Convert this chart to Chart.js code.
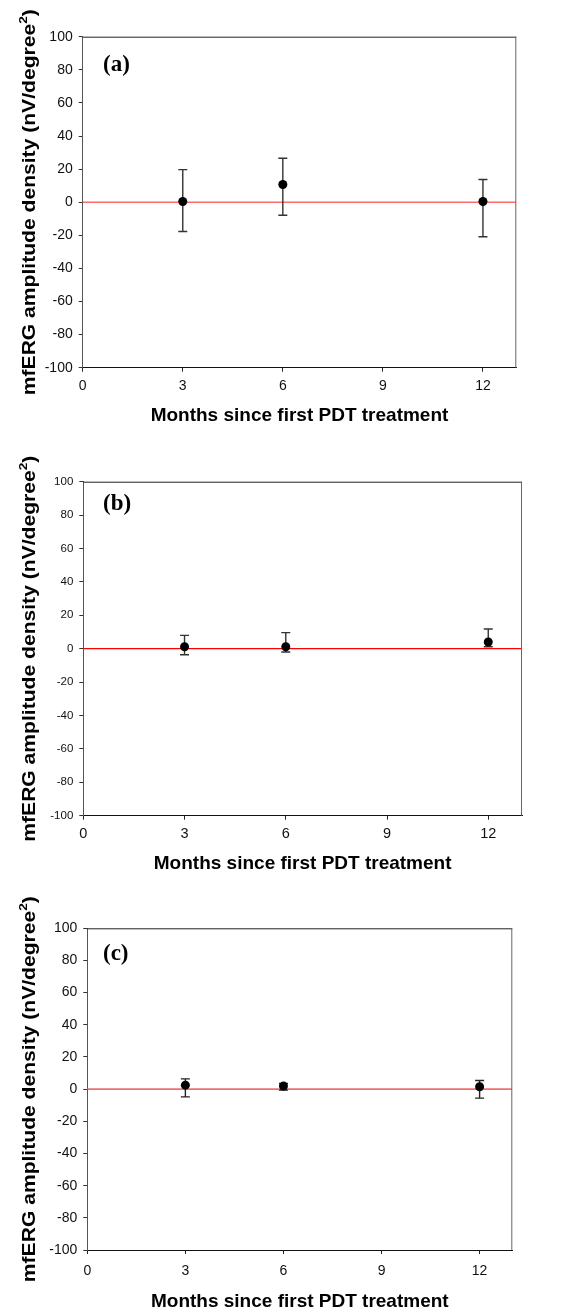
<!DOCTYPE html>
<html>
<head>
<meta charset="utf-8">
<script src="https://cdn.jsdelivr.net/npm/chart.js@4.4.1/dist/chart.umd.min.js"></script>
<style>
  html, body { margin: 0; padding: 0; background: #fff; }
  body { width: 568px; height: 1313px; position: relative; overflow: hidden; }
  canvas { position: absolute; left: 0; }
  .tag {
    position: absolute;
    font-family: "Liberation Serif", "Times New Roman", serif;
    font-weight: bold;
    font-size: 23px;
    line-height: 1;
    color: #000;
  }
</style>
</head>
<body>
<canvas id="chartA" width="568" height="440" style="top:0px"></canvas>
<canvas id="chartB" width="568" height="445" style="top:435px"></canvas>
<canvas id="chartC" width="568" height="443" style="top:870px"></canvas>
<div class="tag" style="left:103px; top:52px;">(a)</div>
<div class="tag" style="left:103px; top:491px;">(b)</div>
<div class="tag" style="left:103px; top:941px;">(c)</div>

<script>
// ---- data ----
const months = [3, 6, 12];

const meanA  = [0.4, 10.7, 0.4];
const upperA = [19.7, 26.6, 13.7];
const lowerA = [-17.7, -7.9, -20.9];

const meanB  = [1.2, 1.2, 4.0];
const upperB = [8.0, 9.6, 11.8];
const lowerB = [-3.6, -2.0, 1.2];

const meanC  = [2.5, 1.9, 1.5];
const upperC = [6.4, 3.5, 5.4];
const lowerC = [-4.8, -0.6, -5.6];

const xTicks = [0, 3, 6, 9, 12];
const yTicks = [-100, -80, -60, -40, -20, 0, 20, 40, 60, 80, 100];
const xMin = 0, xMax = 13;
const yMin = -100, yMax = 100;

const xTitle = 'Months since first PDT treatment';
const yTitleMain = 'mfERG amplitude density (nV/degree';
const yTitleSup = '2';
const yTitleEnd = ')';

const SANS = '"Liberation Sans", Arial, Helvetica, sans-serif';

/**
 * Error bars, top/right frame and rotated y title
 */
const panelPlugin = {
    id: 'panelDeco',
    beforeDatasetDraw(chart, args, opts) {
        if (args.index !== 1) return;
        const ctx = chart.ctx;
        const xs = chart.scales.x, ys = chart.scales.y;
        ctx.save();
        ctx.strokeStyle = opts.barColor;
        ctx.lineWidth = opts.barWidth;
        months.forEach((m, i) => {
            const px = xs.getPixelForValue(m);
            const pHi = ys.getPixelForValue(opts.upper[i]);
            const pLo = ys.getPixelForValue(opts.lower[i]);
            ctx.beginPath();
            ctx.moveTo(px, pHi); ctx.lineTo(px, pLo);
            ctx.moveTo(px - opts.cap, pHi); ctx.lineTo(px + opts.cap, pHi);
            ctx.moveTo(px - opts.cap, pLo); ctx.lineTo(px + opts.cap, pLo);
            ctx.stroke();
        });
        ctx.restore();
    },
    afterDraw(chart, args, opts) {
        const ctx = chart.ctx;
        const a = chart.chartArea;
        ctx.save();
        // top and right frame
        ctx.lineWidth = 1;
        ctx.strokeStyle = '#222';
        ctx.beginPath();
        ctx.moveTo(a.left, a.top + 0.5); ctx.lineTo(a.right, a.top + 0.5);
        ctx.stroke();
        ctx.strokeStyle = '#666';
        ctx.beginPath();
        ctx.moveTo(a.right - 0.5, a.top); ctx.lineTo(a.right - 0.5, a.bottom);
        ctx.stroke();

        // y title with superscript
        const size = opts.yTitleSize;
        ctx.fillStyle = '#000';
        ctx.translate(opts.yTitleX, (a.top + a.bottom) / 2);
        ctx.rotate(-Math.PI / 2);
        ctx.font = `bold ${size}px ${SANS}`;
        const w1 = ctx.measureText(yTitleMain).width;
        const w3 = ctx.measureText(yTitleEnd).width;
        ctx.font = `bold ${size * 0.65}px ${SANS}`;
        const w2 = ctx.measureText(yTitleSup).width;
        const total = w1 + w2 + w3;
        ctx.scale(opts.yTitleLen / total, 1);
        ctx.textBaseline = 'alphabetic';
        ctx.textAlign = 'left';
        let x = -total / 2;
        ctx.font = `bold ${size}px ${SANS}`;
        ctx.fillText(yTitleMain, x, 0);
        x += w1;
        ctx.font = `bold ${size * 0.65}px ${SANS}`;
        ctx.fillText(yTitleSup, x, -size * 0.42);
        x += w2;
        ctx.font = `bold ${size}px ${SANS}`;
        ctx.fillText(yTitleEnd, x, 0);
        ctx.restore();
    }
};

function makePanel(id, mean, upper, lower, g) {
    const canvas = document.getElementById(id);
    const H = canvas.height;
    const titleLine = g.xTitleSize * 1.2;

    return new Chart(canvas.getContext('2d'), {
        type: 'scatter',
        data: {
            datasets: [
                {
                    // zero reference line
                    type: 'line',
                    data: [{ x: xMin, y: 0 }, { x: xMax, y: 0 }],
                    borderColor: g.zeroColor,
                    borderWidth: g.zeroWidth,
                    pointRadius: 0,
                    showLine: true,
                    order: 2
                },
                {
                    data: months.map((m, i) => ({ x: m, y: mean[i] })),
                    backgroundColor: '#000',
                    borderColor: '#000',
                    pointRadius: 4.5,
                    pointBorderWidth: 0,
                    order: 1
                }
            ]
        },
        options: {
            responsive: false,
            animation: false,
            layout: {
                padding: { top: g.top, right: 568 - g.right, bottom: 0, left: 0 }
            },
            plugins: {
                legend: { display: false },
                tooltip: { enabled: false },
                panelDeco: {
                    upper: upper,
                    lower: lower,
                    barColor: g.barColor,
                    barWidth: 1.4,
                    cap: 4.5,
                    yTitleSize: 18,
                    yTitleX: 34.5,
                    yTitleLen: 386
                }
            },
            scales: {
                x: {
                    type: 'linear',
                    min: xMin,
                    max: xMax,
                    afterBuildTicks: s => { s.ticks = xTicks.map(v => ({ value: v })); },
                    afterFit: s => { s.height = H - g.bottom; },
                    grid: { drawOnChartArea: false, drawTicks: true, tickLength: 4, color: '#222' },
                    border: { display: true, color: '#111', width: 1 },
                    ticks: {
                        color: '#111',
                        padding: g.xTickPad,
                        font: { family: SANS, size: g.xTickSize }
                    },
                    title: {
                        display: true,
                        text: xTitle,
                        color: '#000',
                        font: { family: SANS, size: g.xTitleSize, weight: 'bold' },
                        padding: { top: 0, bottom: Math.max(0, H - g.xTitleY - titleLine / 2) }
                    }
                },
                y: {
                    type: 'linear',
                    min: yMin,
                    max: yMax,
                    afterBuildTicks: s => { s.ticks = yTicks.map(v => ({ value: v })); },
                    afterFit: s => { s.width = g.left; },
                    grid: { drawOnChartArea: false, drawTicks: true, tickLength: 4, color: '#333' },
                    border: { display: true, color: '#555', width: 1 },
                    ticks: {
                        color: '#111',
                        padding: 6,
                        font: { family: SANS, size: g.yTickSize }
                    },
                    title: { display: false }
                }
            }
        },
        plugins: [panelPlugin]
    });
}

makePanel('chartA', meanA, upperA, lowerA, {
    top: 36.7, bottom: 367.7, left: 82.7, right: 516.3, xTitleY: 416,
    xTickSize: 14, yTickSize: 14, xTickPad: 6, xTitleSize: 19,
    zeroColor: '#ff6b6b', zeroWidth: 1.6, barColor: '#333'
});

makePanel('chartB', meanB, upperB, lowerB, {
    top: 46.7, bottom: 380.7, left: 83.3, right: 522, xTitleY: 429,
    xTickSize: 14.5, yTickSize: 11.5, xTickPad: 6, xTitleSize: 19,
    zeroColor: '#ff0000', zeroWidth: 1.3, barColor: '#333'
});

makePanel('chartC', meanC, upperC, lowerC, {
    top: 58.3, bottom: 380, left: 87.3, right: 512.3, xTitleY: 433,
    xTickSize: 14, yTickSize: 14, xTickPad: 9, xTitleSize: 19,
    zeroColor: '#f07070', zeroWidth: 1.6, barColor: '#222'
});
</script>
</body>
</html>
